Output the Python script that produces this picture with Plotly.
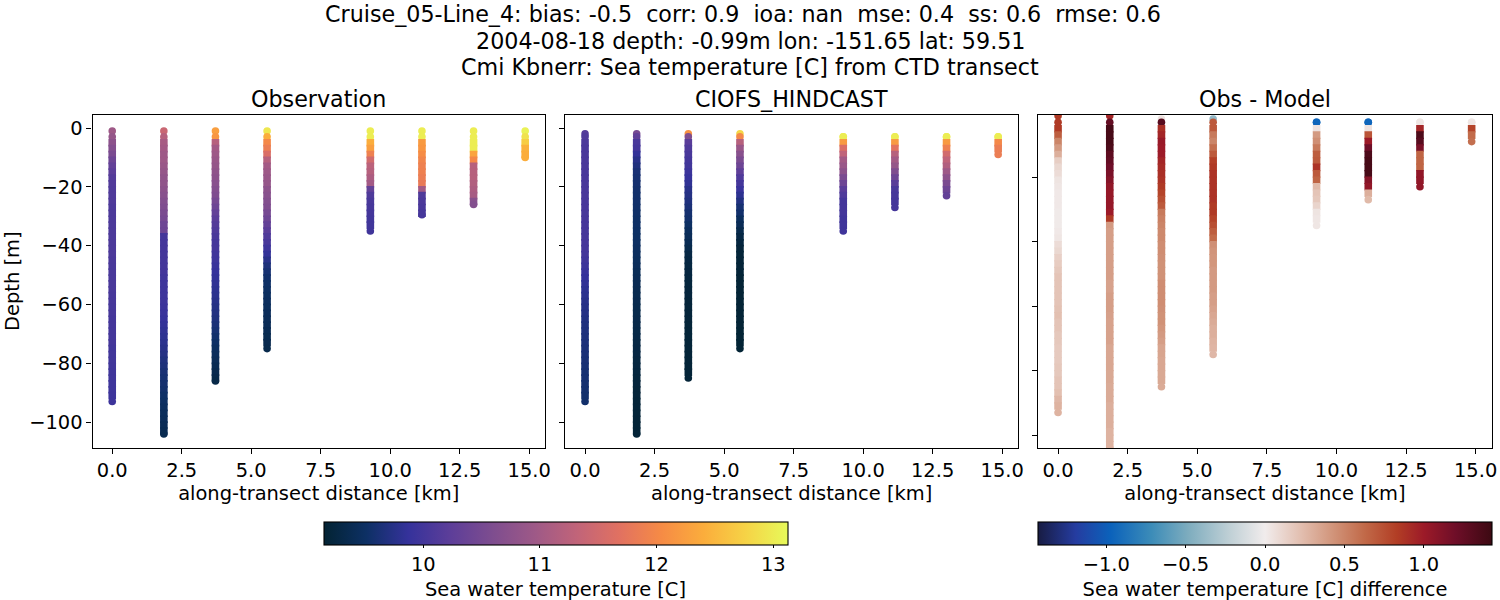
import plotly.graph_objects as go

STATION_KM = [0.0, 1.857, 3.714, 5.571, 9.286, 11.143, 13.0, 14.857]

LEVELS = [-1, -3, -5, -7, -9, -11, -13, -15, -17, -19,
          -21, -23, -25, -27, -29, -31, -33, -35, -37, -39,
          -41, -43, -45, -47, -49, -51, -53, -55, -57, -59,
          -61, -63, -65, -67, -69, -71, -73, -75, -77, -79,
          -81, -83, -85, -87, -89, -91, -93, -95, -97, -99,
          -101, -103]

OBS_TOP = [-1, -1, -1, -1, -1, -1, -1, -1]
OBS_BOTTOM = [-93, -104, -86, -75, -35, -29.5, -26, -10]
MODEL_TOP = [-2, -2, -2, -2, -3, -3, -3, -3]
MODEL_BOTTOM = [-93, -104, -85, -75, -35, -27, -23, -9]
DIFF_TOP = [-1, -1, -2, -2, -3, -3, -3, -3]
DIFF_BOTTOM = [-93, -104, -85, -75, -35, -27, -23, -9]

OBS_T = [
    [10.95, 10.85, 10.75, 10.65, 10.55, 10.4, 10.3, 10.22, 10.15, 10.12,
     10.1, 10.1, 10.1, 10.08, 10.08, 10.08, 10.08, 10.08, 10.08, 10.08,
     10.08, 10.08, 10.06, 10.05, 10.05, 10.05, 10.05, 10.05, 10.03, 10.03,
     10.02, 10.02, 10.0, 10.0, 10.0, 10.0, 10.0, 9.98, 9.98, 9.98,
     9.97, 9.96, 9.96, 9.95, 9.95, 9.94, 9.94],
    [11.4, 11.2, 11.05, 11.0, 10.95, 10.95, 10.9, 10.85, 10.8, 10.8,
     10.75, 10.7, 10.65, 10.6, 10.55, 10.5, 10.42, 10.4, 10.0, 10.0,
     10.0, 10.0, 10.0, 10.0, 10.0, 9.98, 9.95, 9.95, 9.95, 9.95,
     9.93, 9.9, 9.88, 9.85, 9.82, 9.8, 9.78, 9.75, 9.72, 9.68,
     9.65, 9.62, 9.6, 9.57, 9.55, 9.52, 9.5, 9.47, 9.45, 9.43,
     9.4, 9.38, 9.36],
    [12.25, 12.15, 11.2, 11.0, 10.95, 10.9, 10.85, 10.8, 10.75, 10.7,
     10.65, 10.6, 10.5, 10.4, 10.3, 10.2, 10.15, 10.1, 10.05, 10.0,
     10.0, 9.97, 9.95, 9.9, 9.88, 9.85, 9.82, 9.8, 9.78, 9.75,
     9.72, 9.7, 9.67, 9.63, 9.6, 9.55, 9.52, 9.48, 9.45, 9.42,
     9.38, 9.35, 9.32, 9.3],
    [12.95, 12.4, 12.0, 11.85, 11.6, 11.2, 11.0, 10.95, 10.9, 10.85,
     10.75, 10.7, 10.65, 10.6, 10.5, 10.4, 10.3, 10.2, 10.1, 10.05,
     9.95, 9.85, 9.75, 9.65, 9.6, 9.55, 9.52, 9.5, 9.48, 9.46,
     9.45, 9.43, 9.42, 9.4, 9.38, 9.36, 9.35, 9.33],
    [13.0, 13.0, 12.4, 12.25, 11.9, 11.5, 11.25, 11.2, 11.1, 11.0,
     10.3, 10.1, 10.05, 10.02, 10.0, 9.98, 9.98, 9.97],
    [13.0, 13.0, 12.2, 12.15, 12.05, 11.95, 11.9, 11.9, 11.85, 11.8,
     11.0, 10.1, 10.08, 10.05, 10.03, 10.02],
    [13.0, 13.0, 13.0, 13.0, 12.3, 12.0, 11.2, 11.2, 11.2, 11.15,
     11.1, 11.05, 10.7, 10.65],
    [13.05, 12.9, 12.7, 12.45, 12.4, 12.4],
]

MODEL_T = [
    [10.15, 10.1, 10.08, 10.06, 10.06, 10.06, 10.06, 10.06, 10.06, 10.06,
     10.06, 10.06, 10.05, 10.05, 10.04, 10.03, 10.03, 10.03, 10.03, 10.03,
     10.02, 10.0, 9.97, 9.93, 9.9, 9.87, 9.83, 9.8, 9.78, 9.75,
     9.73, 9.72, 9.7, 9.68, 9.67, 9.66, 9.65, 9.64, 9.63, 9.62,
     9.61, 9.6, 9.6, 9.58, 9.57, 9.56, 9.55],
    [10.5, 10.25, 10.05, 10.0, 9.85, 9.75, 9.68, 9.62, 9.6, 9.58,
     9.56, 9.55, 9.55, 9.54, 9.53, 9.52, 9.52, 9.51, 9.5, 9.5,
     9.48, 9.46, 9.45, 9.43, 9.41, 9.4, 9.38, 9.37, 9.36, 9.35,
     9.34, 9.33, 9.32, 9.31, 9.3, 9.29, 9.28, 9.27, 9.26, 9.25,
     9.24, 9.23, 9.22, 9.21, 9.2, 9.2, 9.19, 9.19, 9.19, 9.18,
     9.18, 9.18, 9.18],
    [12.1, 10.6, 10.2, 10.1, 10.05, 10.0, 9.98, 9.93, 9.88, 9.82,
     9.75, 9.72, 9.68, 9.63, 9.58, 9.55, 9.5, 9.45, 9.42, 9.38,
     9.33, 9.28, 9.26, 9.25, 9.24, 9.23, 9.22, 9.21, 9.21, 9.2,
     9.2, 9.2, 9.2, 9.19, 9.19, 9.19, 9.19, 9.19, 9.18, 9.18,
     9.18, 9.18, 9.18],
    [12.8, 12.0, 11.2, 10.9, 10.7, 10.55, 10.4, 10.25, 10.1, 10.0,
     9.9, 9.8, 9.7, 9.6, 9.55, 9.45, 9.4, 9.33, 9.27, 9.23,
     9.2, 9.19, 9.18, 9.18, 9.18, 9.17, 9.17, 9.17, 9.17, 9.17,
     9.17, 9.17, 9.17, 9.17, 9.16, 9.16, 9.16, 9.16],
    [13.0, 13.0, 12.2, 11.6, 11.3, 11.0, 10.9, 10.75, 10.55, 10.4,
     10.2, 10.1, 10.0, 10.0, 10.0, 9.97, 9.97, 9.96],
    [13.0, 13.0, 12.2, 11.7, 11.2, 11.0, 10.85, 10.6, 10.4, 10.2,
     10.05, 10.02, 10.0, 10.0],
    [13.0, 13.0, 12.2, 11.9, 11.5, 11.3, 11.15, 10.95, 10.75, 10.55,
     10.4, 10.3],
    [13.0, 13.0, 12.0, 11.85, 11.85],
]

DIFF_T = [
    [0.85, 0.85, 0.85, 0.68, 0.5, 0.4, 0.3, 0.15, 0.1, 0.08,
     0.04, 0.03, 0.02, 0.02, 0.02, 0.01, 0.01, 0.01, 0.02, 0.03,
     0.08, 0.1, 0.14, 0.16, 0.18, 0.2, 0.2, 0.2, 0.2, 0.2,
     0.21, 0.22, 0.2, 0.2, 0.18, 0.18, 0.17, 0.17, 0.17, 0.18,
     0.18, 0.2, 0.2, 0.22, 0.26, 0.28, 0.28],
    [0.95, 1.25, 1.38, 1.38, 1.38, 1.35, 1.28, 1.25, 1.2, 1.15,
     1.1, 1.05, 1.03, 1.03, 1.03, 1.0, 0.85, 0.4, 0.38, 0.38,
     0.38, 0.38, 0.38, 0.38, 0.38, 0.38, 0.36, 0.36, 0.38, 0.38,
     0.38, 0.37, 0.36, 0.36, 0.36, 0.36, 0.34, 0.34, 0.34, 0.34,
     0.33, 0.33, 0.32, 0.32, 0.32, 0.3, 0.3, 0.3, 0.3, 0.28,
     0.28, 0.28, 0.28],
    [0.05, 1.3, 0.9, 0.95, 1.02, 1.0, 1.0, 0.95, 0.92, 0.9,
     0.88, 0.85, 0.8, 0.75, 0.7, 0.55, 0.52, 0.5, 0.48, 0.48,
     0.46, 0.46, 0.45, 0.44, 0.44, 0.44, 0.46, 0.46, 0.46, 0.46,
     0.45, 0.44, 0.44, 0.42, 0.4, 0.38, 0.35, 0.35, 0.34, 0.34,
     0.33, 0.33, 0.32],
    [-0.4, 0.7, 0.7, 0.55, 0.5, 0.6, 0.7, 0.82, 0.85, 0.88,
     0.88, 0.88, 0.88, 0.88, 0.85, 0.85, 0.8, 0.75, 0.68, 0.62,
     0.45, 0.43, 0.42, 0.42, 0.4, 0.4, 0.4, 0.4, 0.38, 0.38,
     0.36, 0.34, 0.32, 0.3, 0.3, 0.28, 0.27, 0.26],
    [-0.95, -0.95, 0.05, 0.4, 0.45, 0.55, 0.68, 0.7, 0.88, 0.7,
     0.65, 0.25, 0.2, 0.18, 0.12, 0.04, 0.03, 0.03],
    [-0.95, -0.95, 0.05, 0.72, 1.0, 1.2, 1.35, 1.38, 1.38, 1.38,
     1.1, 1.05, 0.3, 0.25],
    [0.03, 0.03, 0.95, 1.35, 1.3, 1.15, 0.65, 0.65, 0.65, 1.05,
     1.05, 1.05],
    [0.03, 0.03, 0.8, 0.62, 0.6],
]

TITLE_LINES = [
    "Cruise_05-Line_4: bias: -0.5\u00a0\u00a0corr: 0.9\u00a0\u00a0ioa: nan\u00a0\u00a0mse: 0.4\u00a0\u00a0ss: 0.6\u00a0\u00a0rmse: 0.6",
    "2004-08-18 depth: -0.99m lon: -151.65 lat: 59.51",
    "Cmi Kbnerr: Sea temperature [C] from CTD transect",
]
PANEL_TITLES = ["Observation", "CIOFS_HINDCAST", "Obs - Model"]
XTICKS = [0, 2.5, 5, 7.5, 10, 12.5, 15]
YTICKS = [0, -20, -40, -60, -80, -100]

BALANCE = [
    [0.0, "rgb(24,28,67)"], [0.083, "rgb(37,60,160)"], [0.16, "rgb(11,98,187)"],
    [0.25, "rgb(60,140,184)"], [0.33, "rgb(125,172,190)"], [0.42, "rgb(190,207,213)"],
    [0.5, "rgb(241,236,236)"], [0.58, "rgb(226,190,175)"], [0.65, "rgb(209,148,122)"],
    [0.72, "rgb(193,105,72)"], [0.79, "rgb(178,62,37)"], [0.85, "rgb(156,26,40)"],
    [0.92, "rgb(110,14,40)"], [1.0, "rgb(60,9,18)"],
]

# The figure is slightly larger than the 1500x600 window (the overflow is hidden) and keeps a
# fixed right margin, so the colorbars do not make plotly shrink the plot area any further.
W, H = 1510, 610
MARGIN_R = 12
T, B = 114.5, 448.0
FONT = "DejaVu Sans"
TICK = 19.44
BIG = 22.22
MARK = 7.6


def xf(px):
    return px / (W - MARGIN_R)


def yf(py):
    return (H - py) / H


fig = go.Figure()
panels = [
    (OBS_T, OBS_TOP, OBS_BOTTOM, "x", "y", "coloraxis"),
    (MODEL_T, MODEL_TOP, MODEL_BOTTOM, "x2", "y2", "coloraxis"),
    (DIFF_T, DIFF_TOP, DIFF_BOTTOM, "x3", "y3", "coloraxis2"),
]
for table, tops, bottoms, xa, ya, ca in panels:
    for km, vals, top, bottom in zip(STATION_KM, table, tops, bottoms):
        n = len(vals)
        depth = [top] + LEVELS[1:n - 1] + [bottom]
        # circles at the ends, squares between them so the column edge stays straight
        symbols = ["circle", "circle"] + ["square"] * (n - 3) + ["circle"]
        fig.add_trace(go.Scatter(
            x=[km] * n, y=depth, xaxis=xa, yaxis=ya, mode="markers",
            marker=dict(color=vals, coloraxis=ca, size=MARK, symbol=symbols, line=dict(width=0)),
            showlegend=False,
        ))

axis_common = dict(
    showgrid=False, zeroline=False, showline=True, mirror=True,
    linecolor="black", linewidth=1.1, ticks="outside", ticklen=5,
    tickwidth=1.1, tickcolor="black",
    tickfont=dict(family=FONT, size=TICK, color="black"),
)
x_pixels = [(92.5, 545.0), (565.3, 1018.0), (1038.3, 1491.5)]
layout = dict(
    width=W, height=H, autosize=False,
    margin=dict(l=0, r=MARGIN_R, t=0, b=0, pad=0),
    paper_bgcolor="white", plot_bgcolor="white",
    font=dict(family=FONT, color="black"),
    coloraxis=dict(
        colorscale="thermal", cmin=9.145, cmax=13.122,
        colorbar=dict(
            orientation="h", lenmode="pixels", len=464, thicknessmode="pixels",
            thickness=23, x=xf(323.5), xanchor="left", y=yf(522), yanchor="top",
            xpad=0, ypad=0, outlinecolor="black", outlinewidth=1.1,
            tickvals=[10, 11, 12, 13], ticks="outside", ticklen=3, tickwidth=1.1,
            tickcolor="black", tickfont=dict(family=FONT, size=TICK, color="black"),
            title=dict(text="Sea water temperature [C]", side="bottom",
                       font=dict(family=FONT, size=TICK, color="black")),
        ),
    ),
    coloraxis2=dict(
        colorscale=BALANCE, cmin=-1.43, cmax=1.43,
        colorbar=dict(
            orientation="h", lenmode="pixels", len=453.5, thicknessmode="pixels",
            thickness=22.5, x=xf(1038), xanchor="left", y=yf(522), yanchor="top",
            xpad=0, ypad=0, outlinecolor="black", outlinewidth=1.1,
            tickvals=[-1.0, -0.5, 0.0, 0.5, 1.0], tickformat=".1f", ticks="outside",
            ticklen=3, tickwidth=1.1, tickcolor="black",
            tickfont=dict(family=FONT, size=TICK, color="black"),
            title=dict(text="Sea water temperature [C] difference", side="bottom",
                       font=dict(family=FONT, size=TICK, color="black")),
        ),
    ),
)
suffixes = ["", "2", "3"]
xrange = [-0.71, 15.57]
for i, (sfx, (x0, x1)) in enumerate(zip(suffixes, x_pixels)):
    layout["xaxis" + sfx] = dict(
        axis_common, domain=[xf(x0), xf(x1)], range=xrange, anchor="y" + sfx,
        tickvals=XTICKS, tickformat=".1f",
        title=dict(text="along-transect distance [km]", standoff=4,
                   font=dict(family=FONT, size=TICK, color="black")),
    )
    layout["yaxis" + sfx] = dict(
        axis_common, domain=[yf(B), yf(T)], anchor="x" + sfx,
        range=[-108.8, 4.6] if i < 2 else [-104.0, -0.6],
        tickvals=YTICKS, showticklabels=(i == 0),
    )
layout["yaxis"]["title"] = dict(text="Depth [m]", standoff=4,
                                font=dict(family=FONT, size=TICK, color="black"))
fig.update_layout(**layout)

for title, (x0, x1) in zip(PANEL_TITLES, x_pixels):
    fig.add_annotation(
        text=title, xref="paper", yref="paper", x=xf((x0 + x1) / 2), y=yf(99),
        xanchor="center", yanchor="middle", showarrow=False,
        font=dict(family=FONT, size=BIG, color="black"),
    )
for line, px, py in zip(TITLE_LINES, [742.5, 750, 750], [14, 41, 67]):
    fig.add_annotation(
        text=line, xref="paper", yref="paper", x=xf(px), y=yf(py),
        xanchor="center", yanchor="middle", showarrow=False,
        font=dict(family=FONT, size=BIG, color="black"),
    )

PAGE_FIX = (
    "document.documentElement.style.overflow='hidden';"
    "document.body.style.overflow='hidden';"
    "document.body.style.margin='0';"
)
fig.write_html("out.html", post_script=PAGE_FIX, config={"displayModeBar": False})
